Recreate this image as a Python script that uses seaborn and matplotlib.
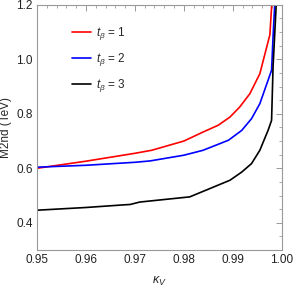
import pandas as pd
import matplotlib
matplotlib.use("Agg")
import matplotlib.pyplot as plt
import seaborn as sns
from matplotlib.ticker import MultipleLocator

# ===========================================================
# Data
# ===========================================================

kappa_t1 = [0.95, 0.96, 0.97, 0.9734, 0.98, 0.9839, 0.987, 0.9894, 0.9914, 0.99347, 0.9955, 0.99755, 0.9980]
m2nd_t1 = [0.600, 0.626, 0.655, 0.666, 0.700, 0.733, 0.758, 0.788, 0.825, 0.874, 0.947, 1.09, 1.22]

kappa_t2 = [0.95, 0.96, 0.97, 0.9731, 0.98, 0.9839, 0.9891, 0.9918, 0.9938, 0.9955, 0.9979, 0.99822, 0.9986]
m2nd_t2 = [0.604, 0.611, 0.622, 0.627, 0.648, 0.666, 0.703, 0.739, 0.782, 0.837, 0.96, 1.09, 1.22]

kappa_t3 = [0.95, 0.96, 0.968, 0.969, 0.971, 0.9812, 0.9894, 0.9918, 0.9938, 0.9955, 0.9972, 0.9979, 0.9982, 0.9989]
m2nd_t3 = [0.446, 0.456, 0.466, 0.467, 0.476, 0.495, 0.556, 0.586, 0.617, 0.666, 0.74, 0.776, 0.972, 1.22]

labels = [r"$t_\beta$ = 1", r"$t_\beta$ = 2", r"$t_\beta$ = 3"]
colors = ["#ff0000", "#0000ff", "#000000"]

df = pd.concat([
    pd.DataFrame({"kappa": kappa_t1, "m2nd": m2nd_t1, "tb": labels[0]}),
    pd.DataFrame({"kappa": kappa_t2, "m2nd": m2nd_t2, "tb": labels[1]}),
    pd.DataFrame({"kappa": kappa_t3, "m2nd": m2nd_t3, "tb": labels[2]}),
])

# ===========================================================
# Figure
# ===========================================================

sns.set_style("white")
plt.rcParams["font.family"] = ["Liberation Sans", "DejaVu Sans"]
plt.rcParams["mathtext.fontset"] = "custom"
plt.rcParams["mathtext.it"] = "Liberation Sans:italic"
plt.rcParams["mathtext.rm"] = "Liberation Sans"

fig = plt.figure(figsize=(2.93, 2.87), dpi=100)
ax = fig.add_axes([0.126, 0.129, 0.836, 0.854])

sns.lineplot(
    data=df, x="kappa", y="m2nd", hue="tb",
    palette=colors, linewidth=1.2, sort=False, estimator=None, ax=ax
)

ax.set_xlim(0.95, 1.00)
ax.set_ylim(0.3, 1.2)
ax.xaxis.set_major_locator(MultipleLocator(0.01))
ax.xaxis.set_minor_locator(MultipleLocator(0.002))
ax.yaxis.set_major_locator(MultipleLocator(0.2))
ax.yaxis.set_minor_locator(MultipleLocator(0.05))
ax.set_xticklabels([f"{v:.2f}" for v in ax.get_xticks()])
ax.set_yticklabels([f"{v:.1f}" for v in ax.get_yticks()])

frame = "#999999"
for s in ax.spines.values():
    s.set_color(frame)
    s.set_linewidth(0.8)
ax.tick_params(which="both", direction="in", top=True, right=True,
               color=frame, labelsize=8.5, labelcolor="#222222", pad=3)
ax.tick_params(which="major", length=4, width=0.7)
ax.tick_params(which="minor", length=2, width=0.6)

ax.set_xlabel(r"$\kappa_V$", fontsize=9, labelpad=6)
ax.set_ylabel("M2nd (TeV)", fontsize=8.5, labelpad=3)

ax.legend(loc="upper left", bbox_to_anchor=(0.1, 0.96), frameon=False,
          fontsize=8.5, handlelength=1.6, handletextpad=0.4, labelspacing=0.75)

plt.savefig("out.png", dpi=100)
